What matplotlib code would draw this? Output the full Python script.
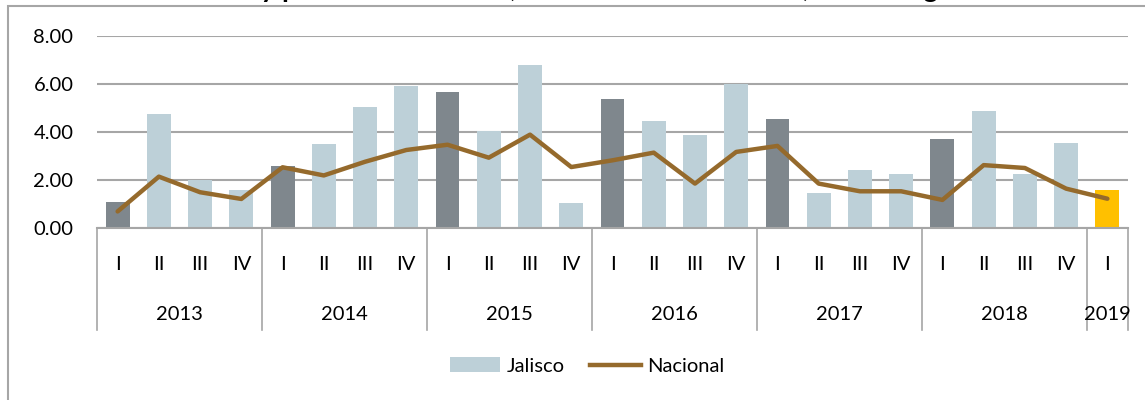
import matplotlib
matplotlib.use("Agg")
import matplotlib.pyplot as plt
from matplotlib.patches import Patch, Rectangle
from matplotlib.lines import Line2D
import matplotlib.transforms as mtransforms

plt.rcParams['font.family'] = ['Lato', 'DejaVu Sans']

years = ["2013", "2014", "2015", "2016", "2017", "2018", "2019"]
quarters_per_year = [4, 4, 4, 4, 4, 4, 1]
quarter_names = ["I", "II", "III", "IV"]

jalisco = [1.08, 4.76, 1.99, 1.57,
           2.58, 3.50, 5.03, 5.92,
           5.67, 4.03, 6.78, 1.04,
           5.37, 4.44, 3.88, 5.99,
           4.54, 1.44, 2.42, 2.25,
           3.71, 4.89, 2.26, 3.53,
           1.58]
nacional = [0.69, 2.14, 1.49, 1.21,
            2.53, 2.19, 2.76, 3.25,
            3.47, 2.93, 3.89, 2.54,
            2.82, 3.14, 1.85, 3.17,
            3.42, 1.85, 1.53, 1.53,
            1.17, 2.62, 2.50, 1.64,
            1.22]

yticks = [0, 2, 4, 6, 8]

C_Q1 = "#7F878D"
C_Q = "#BDD0D8"
C_LAST = "#FFC000"
C_LINE = "#956A2C"
C_GRID = "#A6A6A6"
FS = 14.5

W, H = 1145, 400
fig = plt.figure(figsize=(W / 100, H / 100), dpi=100)
ax = fig.add_axes([97 / W, 1 - 228 / H, (1128 - 97) / W, (228 - 36) / H])

labels = []
for y, n in zip(years, quarters_per_year):
    for q in range(n):
        labels.append(quarter_names[q])
n = len(labels)
x = list(range(n))
colors = []
for i, lab in enumerate(labels):
    if i == n - 1:
        colors.append(C_LAST)
    elif lab == "I":
        colors.append(C_Q1)
    else:
        colors.append(C_Q)

ax.bar(x, jalisco, width=0.58, color=colors, zorder=2)
ax.plot(x, nacional, color=C_LINE, lw=3.2, zorder=3, solid_capstyle='round')

ax.set_xlim(-0.5, n - 0.5)
ax.set_ylim(0, 8)
ax.set_yticks(yticks)
ax.set_yticklabels([f"{v:.2f}" for v in yticks], fontsize=FS)
ax.tick_params(axis='y', length=0, pad=17)
ax.set_xticks([])
ax.yaxis.grid(True, color=C_GRID, lw=1.5, zorder=0)
ax.set_axisbelow(True)
for s in ["top", "right", "left"]:
    ax.spines[s].set_visible(False)
ax.spines["bottom"].set_color(C_GRID)
ax.spines["bottom"].set_linewidth(1.5)

trans = mtransforms.blended_transform_factory(ax.transData, ax.transAxes)
bottom_y = -(330 - 228) / 192
q_y = -(265 - 228) / 192
yr_y = -(315 - 228) / 192

start = 0
bounds = [-0.5]
for y, nq in zip(years, quarters_per_year):
    for q in range(nq):
        ax.text(start + q, q_y, quarter_names[q], transform=trans, ha='center', va='center', fontsize=FS)
    ax.text(start + (nq - 1) / 2, yr_y, y, transform=trans, ha='center', va='center', fontsize=FS)
    start += nq
    bounds.append(start - 0.5)
for b in bounds:
    ax.plot([b, b], [0, bottom_y], transform=trans, color=C_GRID, lw=1.2, clip_on=False)

# outer frame
fig.add_artist(Rectangle((8 / W, -0.1), 2, 1.1 - 6 / H, fill=False, edgecolor=C_GRID, lw=1.5, transform=fig.transFigure))

# clipped title (only its lower edge shows in the reference)
fig.text(565 / W, 1 + 3 / H, "PIB Jalisco y promedio nacional, 2013 - 2019 trimestral, cifras originales",
         ha='center', va='baseline', fontsize=20, fontweight='bold')

handles = [Patch(facecolor=C_Q, edgecolor='none'), Line2D([0], [0], color=C_LINE, lw=3.2)]
fig.legend(handles, ["Jalisco", "Nacional"], loc='center', bbox_to_anchor=(587 / W, 1 - 366 / H),
           ncol=2, frameon=False, fontsize=FS, handlelength=2.5, handletextpad=0.3, columnspacing=1.3)

fig.savefig("out.png", dpi=100)
